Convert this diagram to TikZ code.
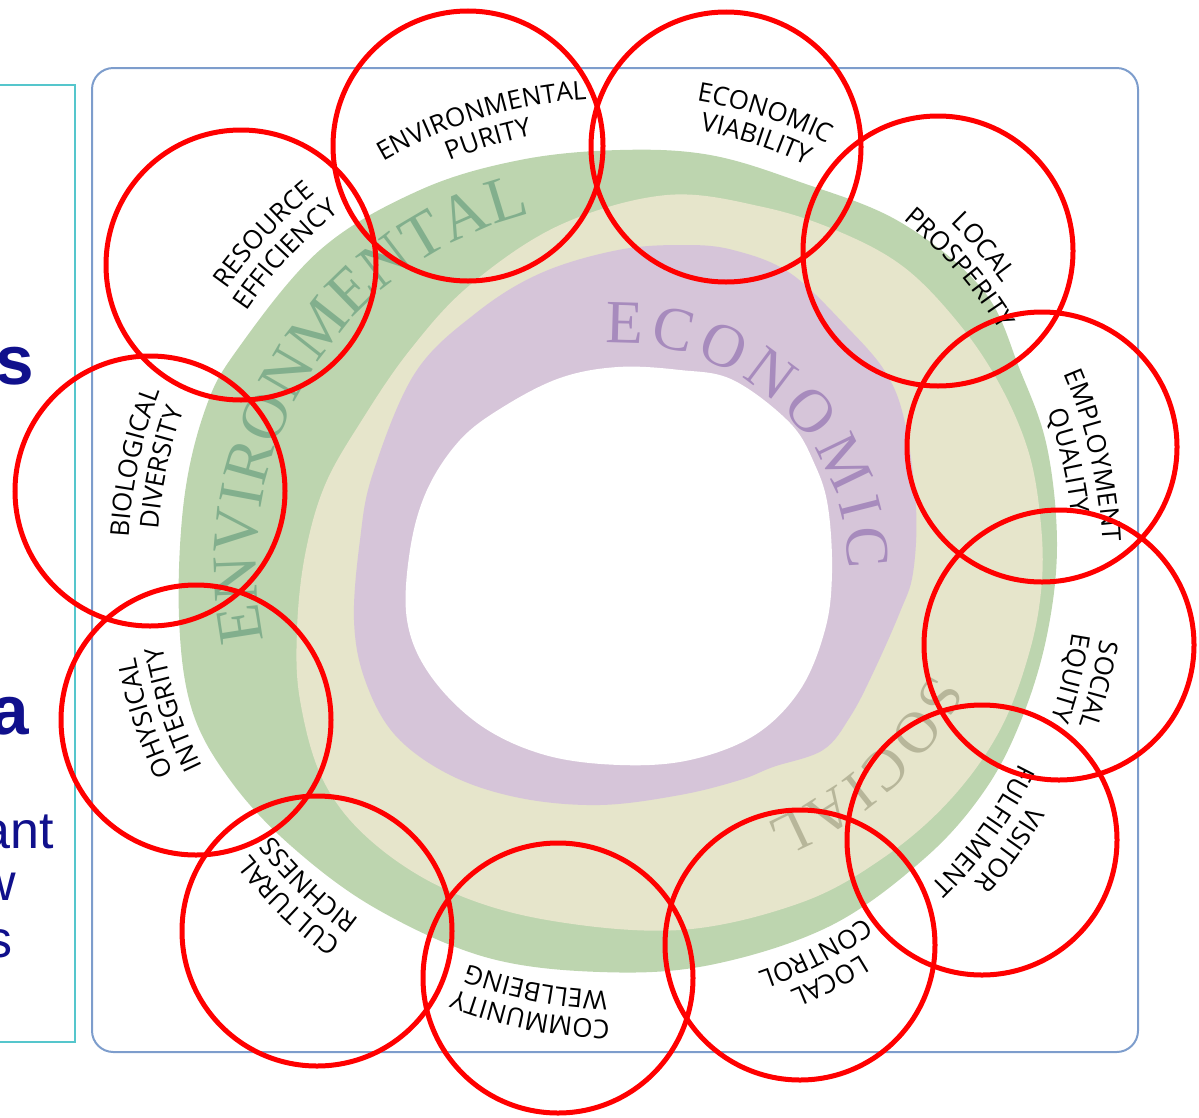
\documentclass[tikz,border=0pt]{standalone}
\usepackage{fontspec}
\usetikzlibrary{calc,decorations.text}

\newfontfamily\lblfont{Open Sans}
\newfontfamily\ringfont{Liberation Serif}
\newfontfamily\slidefont{Liberation Sans}

\definecolor{ringgreen}{HTML}{BDD5AF}
\definecolor{ringbeige}{HTML}{E6E5CB}
\definecolor{ringpurple}{HTML}{D6C5D9}
\definecolor{envtext}{HTML}{82AF8D}
\definecolor{econtext}{HTML}{A78BBD}
\definecolor{soctext}{HTML}{B7B69A}
\definecolor{frameblue}{HTML}{7D9DCC}
\definecolor{boxteal}{HTML}{55C6CC}
\definecolor{slideblue}{HTML}{10108C}

\tikzset{
	redring/.style={draw=red, line width=3.75pt, circle, minimum size=202.5pt, inner sep=0pt},
	ringword/.style 2 args={decorate, decoration={text along path, text align=fit to path, text color=#1, text={#2}}},
	lbl/.style={decorate, decoration={text along path, text align=center, text/.expand once=#1}},
	slidetext/.style={anchor=base east, inner sep=0pt, text=slideblue},
}

\begin{document}
\begin{tikzpicture}[x=0.75pt, y=-0.75pt]
				\useasboundingbox (0,0) rectangle (1199,1117);
				\coordinate (cen) at (618,565);
				% frames
				\draw[boxteal, line width=1.2pt] (-20,85) rectangle (75,1042);
				\draw[frameblue, line width=1.5pt, rounded corners=16pt] (92,68) rectangle (1138,1052);
				% rings
				\fill[ringgreen] plot[smooth cycle, tension=0.6] coordinates {(620,150) (710,155) (800,182) (900,222) (983,290) (1020,370) (1047,447) (1057,545) (1047,635) (1022,718) (985,790) (925,858) (830,926) (710,965) (600,972) (485,957) (375,908) (290,845) (230,780) (192,710) (179,617) (184,500) (205,410) (237,350) (320,250) (420,190) (520,160)};
				\fill[ringbeige] plot[smooth cycle, tension=0.6] coordinates {(667,195) (763,207) (840,232) (905,268) (960,325) (1000,385) (1028,450) (1040,515) (1042,580) (1030,650) (1000,730) (950,800) (883,858) (800,903) (680,930) (547,920) (447,890) (370,840) (323,780) (300,700) (297,630) (305,555) (325,485) (362,420) (410,350) (470,285) (560,225)};
				\fill[ringpurple] plot[smooth cycle, tension=0.6] coordinates {(683,245) (733,250) (790,273) (847,327) (886,373) (905,423) (916,507) (913,573) (900,612) (873,673) (850,717) (823,750) (773,767) (740,780) (680,795) (600,805) (520,798) (450,775) (395,735) (365,680) (354,620) (360,540) (373,473) (415,373) (476,313) (541,273) (618,250)};
				\fill[white] plot[smooth cycle, tension=0.6] coordinates {(618,367) (680,370) (733,380) (790,423) (815,465) (828,507) (832,573) (825,630) (800,690) (755,735) (690,760) (620,765) (545,755) (480,725) (430,675) (407,620) (410,550) (427,490) (460,440) (503,407) (560,378)};
				% ring names
				\ringfont\fontsize{48}{48}\selectfont
				\path[ringword={envtext}{ENVIRONMENTAL}] ($(cen)+(-192:362)$) arc[start angle=-192, end angle=-104, radius=362];
				\fontsize{46}{46}\selectfont
				\path[ringword={econtext}{ECONOMIC}] ($(cen)+(-93:230 and 222)$) arc[start angle=-93, end angle=1, x radius=230, y radius=222];
				\fontsize{44}{44}\selectfont
				\path[ringword={soctext}{SOCIAL}] ($(cen)+(22:338 and 288)$) arc[start angle=22, end angle=64, x radius=338, y radius=288];
				% principle labels
				\lblfont\fontsize{19.5}{20}\selectfont
				\foreach \ang/\rad/\lineA/\lineB [evaluate=\ang as \sa using 0-(\ang)-40, evaluate=\ang as \ea using 0-(\ang)+40, evaluate=\rad as \ra using \rad-9, evaluate=\rad as \rb using \rad-38] in {
					107/476/ENVIRONMENTAL/PURITY, 72/480/ECONOMIC/VIABILITY, 41/486/LOCAL/PROSPERITY,
					13/494/EMPLOYMENT/QUALITY, -14/497/SOCIAL/EQUITY, -36/486/VISITOR/FULFILMENT,
					-63/468/LOCAL/CONTROL, -101/464/COMMUNITY/WELLBEING, -134/477/CULTURAL/RICHNESS,
					-162/500/OHYSICAL/INTEGRITY, 168/499/BIOLOGICAL/DIVERSITY, 137/488/RESOURCE/EFFICIENCY} {
					\path[lbl=\lineA] ($(cen)+(\sa:\ra)$) arc[start angle=\sa, end angle=\ea, radius=\ra];
					\path[lbl=\lineB] ($(cen)+(\sa:\rb)$) arc[start angle=\sa, end angle=\ea, radius=\rb];
				}
				% red circles
				\node[redring] (envpur)at(468, 146) {};
				\node[redring] (ecovia)at(726, 147) {};
				\node[redring] (locpro)at(938, 251) {};
				\node[redring] (empqua)at(1042, 447) {};
				\node[redring] (socequ)at(1059, 645) {};
				\node[redring] (visful)at(982, 840) {};
				\node[redring] (loccon)at(800, 945) {};
				\node[redring] (comwel)at(558, 978) {};
				\node[redring] (culric)at(317, 931) {};
				\node[redring] (phyint)at(196, 720) {};
				\node[redring] (biodiv)at(150, 491) {};
				\node[redring] (reseff)at(241, 265) {};
				% slide text cut by the page edge
				\node[slidetext, font=\slidefont\bfseries\fontsize{52}{60}\selectfont] (headA)at(34, 384) {s};
				\node[slidetext, font=\slidefont\bfseries\fontsize{52}{60}\selectfont] (headB)at(29, 734) {a};
				\node[slidetext, font=\slidefont\fontsize{39}{44}\selectfont] (bodyA)at(54, 848) {ant};
				\node[slidetext, font=\slidefont\fontsize{39}{44}\selectfont] (bodyB)at(16, 900) {w};
				\node[slidetext, font=\slidefont\fontsize{39}{44}\selectfont] (bodyC)at(13, 957) {s};
			\end{tikzpicture}
\end{document}
